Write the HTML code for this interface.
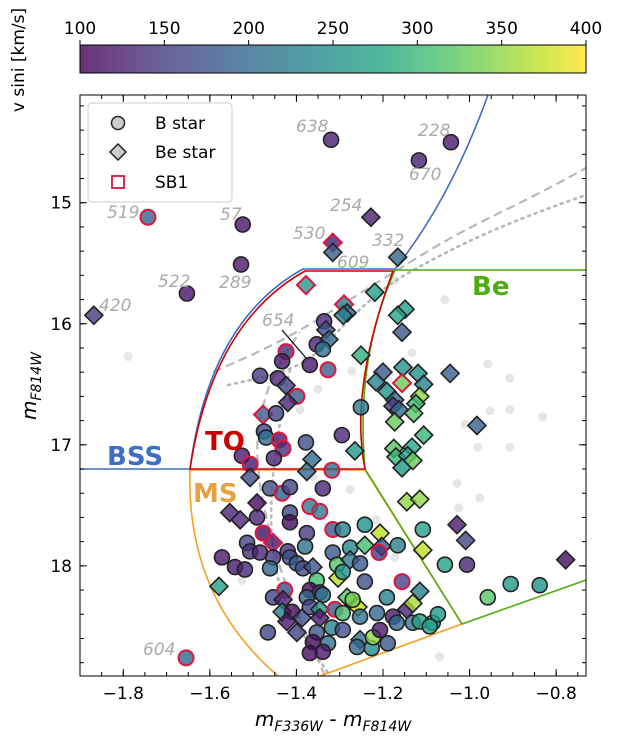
<!DOCTYPE html>
<html><head><meta charset="utf-8"><style>
body{margin:0;background:#fff}
svg{display:block;font-family:"DejaVu Sans","Liberation Sans",sans-serif}
</style></head><body>
<svg id="chart" width="619" height="749" viewBox="0 0 619 749">
<defs>
<linearGradient id="vir" x1="0" x2="1" y1="0" y2="0">
<stop offset="0" stop-color="#440154"/><stop offset="0.1" stop-color="#482475"/><stop offset="0.2" stop-color="#414487"/><stop offset="0.3" stop-color="#355f8d"/><stop offset="0.4" stop-color="#2a788e"/><stop offset="0.5" stop-color="#21918c"/><stop offset="0.6" stop-color="#22a884"/><stop offset="0.7" stop-color="#44bf70"/><stop offset="0.8" stop-color="#7ad151"/><stop offset="0.9" stop-color="#bddf26"/><stop offset="1" stop-color="#fde725"/>
</linearGradient>
<clipPath id="plotclip"><rect x="80" y="95" width="506" height="581"/></clipPath>
</defs>
<g>
<rect x="80" y="45" width="506" height="28" fill="url(#vir)" fill-opacity="0.8" stroke="none"/>
<rect x="80" y="45" width="506" height="28" fill="none" stroke="#000" stroke-width="1"/>
<g id="cbticks"></g>
<text transform="translate(24,60) rotate(-90)" text-anchor="middle" font-size="17">v sini [km/s]</text>
</g>
<g clip-path="url(#plotclip)">
<g id="gray"></g>
<g fill="none" stroke="#b8b8b8" stroke-width="2.2">
<path d="M213,372 C240,360 265,350 300,330 S380,280 430,250 S520,205 586,168" stroke-dasharray="9,5"/>
<path d="M325,676 C305,630 285,590 272,540 S252,450 262,410 S285,355 300,332" stroke-dasharray="9,5"/>
<path d="M228,385 C260,378 290,372 310,358 S360,300 410,272 S500,225 586,195" stroke-dasharray="2,5" stroke-width="2.6" stroke-linecap="round"/>
<path d="M290,370 C280,420 268,480 272,540 S300,630 330,676" stroke-dasharray="2,5" stroke-width="2.6" stroke-linecap="round"/>
</g>
<g fill="none" stroke-width="1.6">
<path d="M190,470 L365,470 L462,624 L320,676 M190,470 Q186,597 278,676" stroke="#f7a01f"/>
<path d="M395,270 L586,270 M395,270 Q355,360 365,469 L462,624 L586,580" stroke="#4cac10"/>
<path d="M80,469 L190,469 Q209,321 303,269 L395,269 Q450,200 488,95" stroke="#3d6fc6"/>
<path d="M190,469 Q212,323 305,271 L393,271 Q349,390 365,469 Z" stroke="#d10000"/>
<line x1="282" y1="330" x2="306" y2="358" stroke="#111" stroke-width="1.3"/>
</g>
<g id="marks"></g>
<g font-size="17" font-style="italic" fill="#aaa">
<text x="296" y="132">638</text>
<text x="418" y="136">228</text>
<text x="409" y="180">670</text>
<text x="330" y="211">254</text>
<text x="107" y="218">519</text>
<text x="220" y="220">57</text>
<text x="293" y="239">530</text>
<text x="372" y="246">332</text>
<text x="337" y="268">609</text>
<text x="158" y="287">522</text>
<text x="219" y="288">289</text>
<text x="99" y="311">420</text>
<text x="262" y="326">654</text>
<text x="143" y="655">604</text>
</g>
<g font-weight="bold" font-size="26">
<text x="107" y="465" fill="#3d6fc6">BSS</text>
<text x="205" y="450" fill="#cc0000">TO</text>
<text x="193" y="502" fill="#e8a040">MS</text>
<text x="472" y="295" fill="#4cac10">Be</text>
</g>
</g>
<rect x="80" y="95" width="506" height="581" fill="none" stroke="#000" stroke-width="1"/>
<g id="ticks"></g>
<g>
<rect x="88" y="103" width="144" height="99" rx="4" fill="#fff" fill-opacity="0.9" stroke="#ccc"/>
<circle cx="118" cy="123" r="6.5" fill="#ccc" stroke="#222" stroke-width="1.5"/>
<text x="155" y="129" font-size="17">B star</text>
<path d="M118,144 L126,152 L118,160 L110,152 Z" fill="#ccc" stroke="#222" stroke-width="1.5"/>
<text x="155" y="158" font-size="17">Be star</text>
<rect x="112" y="176" width="12" height="12" fill="none" stroke="#dc143c" stroke-width="1.8"/>
<text x="155" y="188" font-size="17">SB1</text>
</g>
<text x="333" y="726" text-anchor="middle" font-size="20"><tspan font-style="italic">m</tspan><tspan font-size="14" dy="5" font-style="italic">F336W</tspan><tspan dy="-5"> - </tspan><tspan font-style="italic">m</tspan><tspan font-size="14" dy="5" font-style="italic">F814W</tspan></text>
<text transform="translate(36,386) rotate(-90)" text-anchor="middle" font-size="20"><tspan font-style="italic">m</tspan><tspan font-size="14" dy="5" font-style="italic">F814W</tspan></text>
</svg>
<script>
// star data: colour index, magnitude, v sini, type (0=B circle,1=Be diamond), SB1 flag
const xs=[-1.320,-1.117,-1.043,-1.743,-1.228,-1.524,-1.528,-1.653,-1.868,-1.316,-1.316,-1.166,-1.378,-1.219,-1.290,-1.283,-1.292,-1.149,-1.166,-1.156,-1.336,-1.332,-1.325,-1.353,-1.339,-1.424,-1.433,-1.369,-1.327,-1.251,-1.484,-1.443,-1.424,-1.399,-1.420,-1.251,-1.477,-1.447,-1.475,-1.470,-1.440,-1.431,-1.378,-1.295,-1.265,-1.526,-1.507,-1.452,-1.364,-1.376,-1.318,
-1.200,-1.154,-1.119,-1.216,-1.156,-1.106,-1.191,-1.045,-1.115,-1.173,-1.177,-1.163,-1.124,-1.129,-1.173,-1.106,-0.983,-1.175,-1.133,-1.170,-1.143,-1.131,-1.156,
-1.145,-1.115,-1.108,-1.108,-1.057,-1.029,-1.009,-0.778,-0.905,-0.958,-0.838,-1.006,
-1.507,-1.461,-1.433,-1.415,-1.339,-1.491,-1.554,-1.530,-1.491,-1.415,-1.415,-1.369,-1.346,-1.376,-1.316,-1.293,-1.242,-1.477,-1.454,-1.514,-1.380,-1.507,-1.484,-1.572,-1.542,-1.519,-1.454,-1.461,-1.420,-1.415,-1.399,-1.385,-1.362,-1.316,-1.306,-1.276,-1.276,-1.253,-1.242,-1.207,-1.203,-1.209,-1.304,-1.353,-1.293,-1.242,-1.156,-1.115,-1.166,-1.454,-1.427,-1.431,-1.369,-1.346,-1.376,-1.339,-1.433,-1.410,-1.422,-1.399,-1.387,-1.369,-1.346,-1.346,-1.311,-1.283,-1.258,-1.270,-1.293,-1.253,-1.318,-1.293,-1.353,-1.362,-1.327,-1.369,-1.339,-1.466,-1.253,-1.226,-1.260,-1.223,-1.207,-1.189,-1.214,-1.191,-1.177,-1.168,-1.145,-1.131,-1.131,-1.115,-1.085,-1.073,-1.092,-1.655,-1.579];
const ys=[14.48,14.65,14.50,15.12,15.12,15.18,15.51,15.75,15.93,15.33,15.41,15.45,15.68,15.74,15.84,15.91,15.93,15.88,15.93,16.07,15.98,16.05,16.13,16.17,16.21,16.23,16.31,16.34,16.38,16.26,16.43,16.45,16.51,16.60,16.65,16.69,16.75,16.74,16.89,16.94,16.96,17.03,16.98,16.92,17.05,17.09,17.16,17.11,17.12,17.22,17.21,
16.40,16.36,16.41,16.48,16.49,16.50,16.56,16.41,16.60,16.63,16.68,16.71,16.66,16.74,16.81,16.92,16.84,17.03,17.02,17.10,17.09,17.13,17.19,
17.47,17.45,17.70,17.87,17.99,17.66,17.79,17.95,18.15,18.26,18.16,17.99,
17.27,17.36,17.40,17.35,17.36,17.48,17.56,17.62,17.60,17.56,17.64,17.51,17.55,17.73,17.70,17.70,17.66,17.73,17.81,17.81,17.84,17.88,17.89,17.93,18.01,18.03,17.93,18.02,17.88,17.93,17.98,18.02,18.01,17.89,17.99,17.85,17.95,17.98,17.83,17.73,17.84,17.89,18.10,18.12,18.05,18.13,18.13,18.21,17.83,18.26,18.20,18.28,18.20,18.22,18.26,18.24,18.38,18.38,18.46,18.55,18.43,18.34,18.36,18.43,18.36,18.26,18.34,18.28,18.39,18.42,18.51,18.53,18.55,18.63,18.64,18.72,18.71,18.55,18.61,18.68,18.67,18.59,18.53,18.64,18.39,18.26,18.42,18.47,18.36,18.31,18.47,18.46,18.47,18.40,18.50,18.76,18.17];
const vs=[125,125,120,190,125,115,120,115,150,125,190,200,260,270,230,200,230,270,280,180,130,170,200,130,210,140,120,120,190,290,150,130,160,180,130,220,190,160,160,210,120,140,170,130,260,120,120,130,200,200,200,
180,250,250,230,330,230,250,190,350,200,150,200,300,320,330,300,190,320,280,300,270,330,260,
350,350,270,370,270,120,160,110,260,320,250,130,
170,170,180,160,130,110,130,130,130,160,110,220,220,150,180,230,250,110,120,160,210,140,130,120,120,130,150,200,140,170,180,170,170,180,320,240,220,180,310,370,180,150,370,310,250,170,160,230,230,160,170,130,110,140,190,220,230,110,120,160,170,160,260,120,180,320,370,340,310,210,230,170,180,110,210,110,120,160,210,240,200,350,120,180,200,230,120,200,130,360,220,270,260,260,270,200,270];
const types=[0,0,0,0,1,0,0,0,1,1,1,1,1,1,1,1,1,1,1,1,0,1,1,0,0,0,0,0,0,1,0,0,1,0,1,0,1,0,0,0,0,0,0,0,1,0,0,0,1,1,0,
1,1,1,1,1,1,1,1,1,1,1,1,1,1,1,1,1,1,1,1,1,1,1,
1,1,0,1,0,1,1,1,0,0,0,0,
1,0,0,0,0,1,1,1,0,0,0,0,0,0,0,0,0,0,1,0,0,0,0,0,0,0,0,0,0,0,0,0,1,0,0,0,1,0,1,1,1,0,1,0,0,0,0,1,0,0,0,1,0,0,0,0,1,0,1,1,1,0,1,1,0,1,1,0,0,0,0,0,0,0,0,0,0,0,1,0,0,0,0,0,0,0,0,0,1,1,0,0,0,0,0,0,1];
const sb1=[0,0,0,1,0,0,0,0,0,1,0,0,1,0,1,0,0,0,0,0,0,0,0,0,0,1,0,0,1,0,0,0,0,1,0,0,1,0,0,0,1,1,0,0,0,0,1,0,0,0,1,
0,0,0,0,1,0,0,0,0,0,0,0,0,0,0,0,0,0,0,0,0,0,0,
0,0,0,0,0,0,0,0,0,0,0,0,
0,0,1,0,0,0,0,0,0,0,0,1,1,0,1,0,0,1,1,0,0,0,0,0,0,0,0,0,0,0,0,0,0,0,0,0,0,0,0,0,0,1,0,0,0,0,1,0,0,0,1,0,0,0,0,0,0,0,0,0,0,0,0,0,1,0,0,0,0,0,0,0,0,0,0,0,0,0,0,0,0,0,0,0,0,0,0,0,0,0,0,0,0,0,0,1,0];
// background cluster stars
const grayX=[-1.789,-1.272,-1.350,-1.189,-1.133,-0.958,-0.907,-0.953,-0.907,-0.831,-1.011,-0.981,-0.907,-1.029,-1.025,-0.976,-1.276,-1.216,-1.173,-1.069,-1.392,-1.526,-1.362,-1.057,-1.173];
const grayY=[16.27,16.39,16.54,16.46,16.24,16.33,16.45,16.72,16.71,16.77,16.83,17.02,17.02,17.32,17.52,17.44,17.37,17.62,17.93,18.75,16.71,18.12,17.26,15.80,15.64];
const xTicks=[-1.8,-1.6,-1.4,-1.2,-1.0,-0.8];
const xTickLabels=["\u22121.8","\u22121.6","\u22121.4","\u22121.2","\u22121.0","\u22120.8"];
const yTicks=[15,16,17,18];
const cbTicks=[100,150,200,250,300,350,400];

const X0=-1.9,X1=-0.731,Y0=14.11,Y1=18.91;
function sx(x){return 80+(x-X0)/(X1-X0)*506;}
function sy(y){return 95+(y-Y0)/(Y1-Y0)*581;}
function cbx(v){return 80+(v-100)/300*506;}
const vir=["#440154","#482475","#414487","#355f8d","#2a788e","#21918c","#22a884","#44bf70","#7ad151","#bddf26","#fde725"];
function hex(h){return [1,3,5].map(i=>parseInt(h.substr(i,2),16));}
function cmap(v){let t=Math.max(0,Math.min(1,(v-100)/300))*10;let i=Math.min(9,Math.floor(t)),f=t-i;let a=hex(vir[i]),b=hex(vir[i+1]);return "rgb("+a.map((c,k)=>Math.round(c+(b[k]-c)*f)).join(",")+")";}
const NS="http://www.w3.org/2000/svg";
function mk(tag,attrs,parent){const e=document.createElementNS(NS,tag);for(const k in attrs)e.setAttribute(k,attrs[k]);parent.appendChild(e);return e;}

const gg=document.getElementById("gray");
for(let i=0;i<grayX.length;i++){
 const c=mk("circle",{cx:sx(grayX[i]),cy:sy(grayY[i]),r:4.5,fill:"#e6e6e6"},gg);
 
 
}
const mg=document.getElementById("marks");
for(let i=0;i<xs.length;i++){
 const px=sx(xs[i]),py=sy(ys[i]);
 const stroke=sb1[i]?"#e0143c":"#222";
 const sw=sb1[i]?2:1.6;
 let e;
 if(types[i]){
  const d=9;
  e=mk("path",{d:`M${px},${py-d}L${px+d},${py}L${px},${py+d}L${px-d},${py}Z`,fill:cmap(vs[i]),"fill-opacity":0.8,stroke:stroke,"stroke-width":sw},mg);
  
 }else{
  e=mk("circle",{cx:px,cy:py,r:7.5,fill:cmap(vs[i]),"fill-opacity":0.8,stroke:stroke,"stroke-width":sw},mg);
  
 }
 
}
const tg=document.getElementById("ticks");
xTicks.forEach((v,i)=>{
 const x=sx(v);
 mk("line",{x1:x,y1:676,x2:x,y2:669,stroke:"#000"},tg);
 mk("line",{x1:x,y1:95,x2:x,y2:102,stroke:"#000"},tg);
 const t=mk("text",{x:x,y:699,"text-anchor":"middle","font-size":17},tg);
 t.textContent=xTickLabels[i];
 
 
});
for(let v=-1.9;v<=-0.72;v+=0.05){const x=sx(v);mk("line",{x1:x,y1:676,x2:x,y2:672,stroke:"#000"},tg);mk("line",{x1:x,y1:95,x2:x,y2:99,stroke:"#000"},tg);}
yTicks.forEach(v=>{
 const y=sy(v);
 mk("line",{x1:80,y1:y,x2:87,y2:y,stroke:"#000"},tg);
 mk("line",{x1:586,y1:y,x2:579,y2:y,stroke:"#000"},tg);
 const t=mk("text",{x:72,y:y+6,"text-anchor":"end","font-size":17},tg);
 t.textContent=String(v);
 
 
});
for(let v=14.2;v<=18.9;v+=0.2){const y=sy(v);mk("line",{x1:80,y1:y,x2:84,y2:y,stroke:"#000"},tg);mk("line",{x1:586,y1:y,x2:582,y2:y,stroke:"#000"},tg);}
const cg=document.getElementById("cbticks");
cbTicks.forEach(v=>{
 const x=cbx(v);
 mk("line",{x1:x,y1:45,x2:x,y2:40,stroke:"#000"},cg);
 const t=mk("text",{x:x,y:34,"text-anchor":"middle","font-size":17},cg);
 t.textContent=String(v);
 
 
});
</script>
</body></html>
